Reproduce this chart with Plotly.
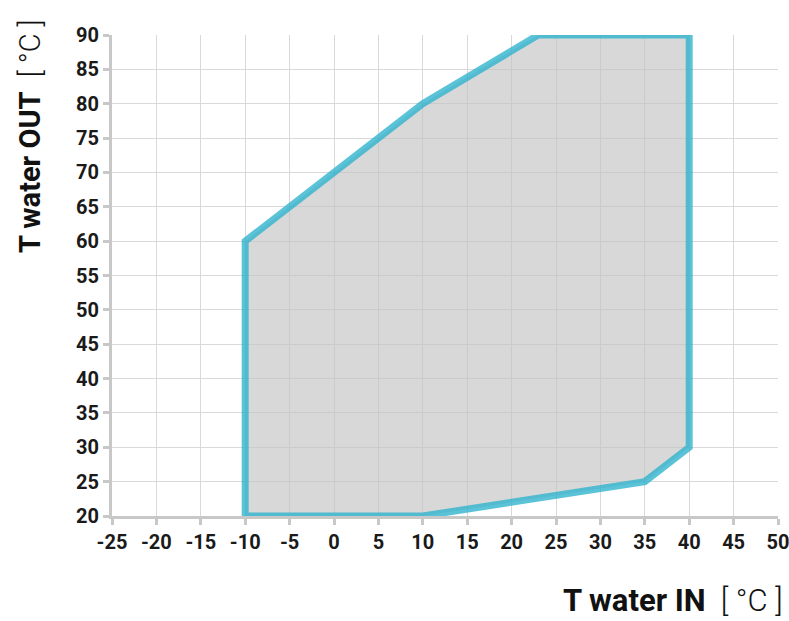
import plotly.graph_objects as go

# Operating envelope (T water IN vs T water OUT)
T_IN = [-10, -10, 10, 23, 40, 40, 35, 10, -10]
T_OUT = [20, 60, 80, 90, 90, 30, 25, 20, 20]

X_TICKS = list(range(-25, 51, 5))
Y_TICKS = list(range(20, 91, 5))

FONT = "Roboto, Liberation Sans, sans-serif"
AXIS_GRAY = "#c8c8c8"
GRID_GRAY = "#d9d9d9"

fig = go.Figure()

fig.add_trace(go.Scatter(
    x=T_IN,
    y=T_OUT,
    mode="lines",
    fill="toself",
    fillcolor="rgba(195,195,195,0.65)",
    line=dict(color="rgba(45,178,204,0.78)", width=7),
    hoverinfo="skip",
    showlegend=False,
))

axis_common = dict(
    showline=True,
    linecolor=AXIS_GRAY,
    linewidth=3,
    ticks="outside",
    ticklen=6,
    tickwidth=3,
    tickcolor=AXIS_GRAY,
    showgrid=True,
    gridcolor=GRID_GRAY,
    gridwidth=1,
    zeroline=False,
    automargin=False,
    ticklabeloverflow="allow",
    tickfont=dict(family=FONT, size=20, color="#1a1a1a", weight="bold"),
)

# hyphen-minus labels like the original, not the unicode minus
fig.update_xaxes(range=[-25, 50], tickvals=X_TICKS,
                 ticktext=[str(v) for v in X_TICKS], **axis_common)
fig.update_yaxes(range=[20, 90], tickvals=Y_TICKS,
                 ticktext=[str(v) for v in Y_TICKS], **axis_common)

fig.add_annotation(
    text="<b>T water OUT</b>  [ °C ]",
    xref="paper", yref="paper",
    x=-0.123, y=0.79,
    textangle=-90,
    showarrow=False,
    xanchor="center", yanchor="middle",
    font=dict(family=FONT, size=29, color="#111", weight=300),
)
fig.add_annotation(
    text="<b>T water IN</b>  [ °C ]",
    xref="paper", yref="paper",
    x=1.011, y=-0.176,
    showarrow=False,
    xanchor="right", yanchor="middle",
    font=dict(family=FONT, size=31, color="#111", weight=300),
)

fig.update_layout(
    width=789,
    height=621,
    margin=dict(l=112, r=11, t=35, b=105),
    paper_bgcolor="white",
    plot_bgcolor="white",
    font=dict(family=FONT),
)

# drop the default body margin so the figure fills the window exactly
fig.write_html(
    "out.html",
    config={"displayModeBar": False},
    post_script="document.body.style.margin='0';document.body.style.overflow='hidden';",
)
